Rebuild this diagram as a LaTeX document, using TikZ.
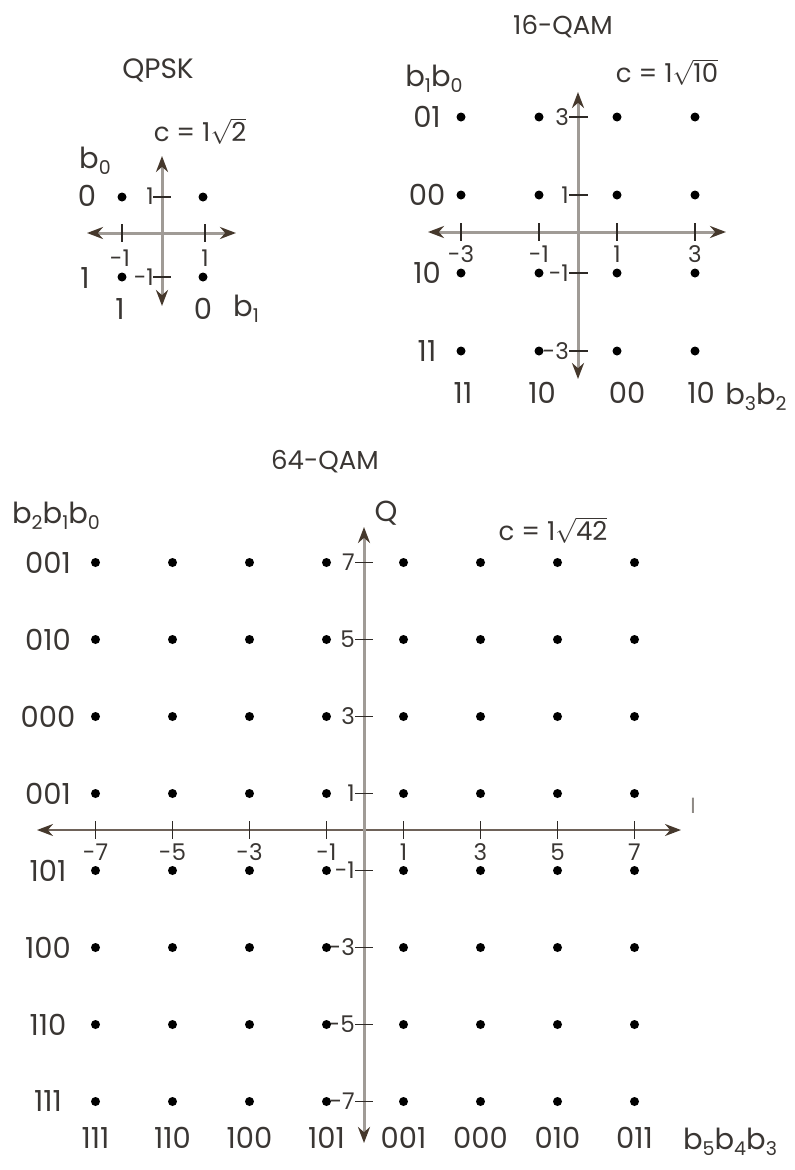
\documentclass[tikz,border=0pt]{standalone}
\usepackage{fontspec}
\usepackage{graphicx}
\setmainfont{Poppins}
\usetikzlibrary{arrows.meta}
\definecolor{txt}{HTML}{3A3633}
\definecolor{axg}{HTML}{A09B96}
\definecolor{axd}{HTML}{6E6259}
\definecolor{arr}{HTML}{45382C}
\definecolor{tk}{HTML}{2E2A26}
\definecolor{ilab}{HTML}{8E8985}
\newcommand\sbs[1]{\raisebox{-0.35ex}{\fontsize{19}{19}\selectfont #1}}
\newcommand\rootc[1]{$\sqrt{\hbox{#1}}$}
\tikzset{
  dot/.style={circle, fill=black, inner sep=0pt, minimum size=9pt},
  axis/.style={draw=axg, line width=3pt,
    arrows={Stealth[length=16pt,width=12pt,color=arr]-Stealth[length=16pt,width=12pt,color=arr]}},
  axisd/.style={axis, draw=axd, line width=2.2pt},
  tick/.style={draw=tk, line width=1.3pt},
  lab/.style={text=txt, inner sep=0pt, font=\fontsize{29}{29}\selectfont},
  tlab/.style={text=txt, inner sep=0pt, font=\fontsize{23}{23}\selectfont},
  ttl/.style={text=txt, inner sep=0pt, font=\fontsize{26}{26}\selectfont},
}
\begin{document}
\begin{tikzpicture}[x=1pt,y=-1pt]
\useasboundingbox (0,0) rectangle (795,1170);
% ================= QPSK =================
\node[ttl, font=\fontsize{28}{28}\selectfont] (qpskT) at (158,70) {QPSK};
\node[ttl] (qpskC) at (200,131) {c = 1\rootc{2}};
\coordinate (qL) at (87,233); \coordinate (qR) at (236,233);
\coordinate (qT) at (162,156); \coordinate (qB) at (162,306);
\draw[axis] (qL) -- (qR);
\draw[axis] (qT) -- (qB);
\draw[tick] (122,224) -- (122,242);
\draw[tick] (205,224) -- (205,242);
\draw[tick] (153,197) -- (171,197);
\draw[tick] (153,277) -- (171,277);
\node[tlab, anchor=east] (qv1) at (154,196) {1};
\node[tlab, anchor=east] (qvm1) at (154,277) {-1};
\node[tlab] (qhm1) at (120,258) {-1};
\node[tlab] (qh1) at (205,258) {1};
\node[dot] (q00) at (122,197) {};
\node[dot] (q10) at (203,197) {};
\node[dot] (q01) at (122,277) {};
\node[dot] (q11) at (203,277) {};
\node[lab] (qr0) at (87,196) {0};
\node[lab] (qr1) at (85,278) {1};
\node[lab] (qc1) at (120,309) {1};
\node[lab] (qc0) at (203,309) {0};
\node[lab] (qb1) at (246,309) {b\sbs{1}};
\node[lab] (qb0) at (95,161) {b\sbs{0}};
% ================= 16-QAM =================
\node[ttl] (q16T) at (563,27) {16-QAM};
\node[ttl] (q16C) at (667,72) {c = 1\rootc{10}};
\coordinate (sL) at (428,232); \coordinate (sR) at (726,232);
\coordinate (sT) at (578,92); \coordinate (sB) at (578,379);
\draw[axis] (sL) -- (sR);
\draw[axis] (sT) -- (sB);
\foreach \v/\x in {-3/461,-1/539,1/617,3/695}{
  \draw[tick] (\x,223) -- (\x,241);
  \node[tlab] (sh\v) at (\x,254) {\v};
}
\foreach \v/\y in {3/117,1/195,-1/273,-3/351}{
  \draw[tick] (569,\y) -- (588,\y);
  \node[tlab, anchor=east] (sv\v) at (569,\y) {\v};
}
\foreach \x in {461,539,617,695}{
  \foreach \y in {117,195,273,351}{
    \node[dot] (s\x-\y) at (\x,\y) {};
  }
}
\foreach \t/\y in {01/117,00/195,10/273,11/351}{
  \node[lab] (sr\y) at (427,\y) {\t};
}
\foreach \t/\x in {11/463,10/542,00/627,10/701}{
  \node[lab] (sc\x) at (\x,393) {\t};
}
\node[lab] (sb32) at (756,397) {b\sbs{3}b\sbs{2}};
\node[lab] (sb10) at (434,79) {b\sbs{1}b\sbs{0}};
% ================= 64-QAM =================
\node[ttl] (q64T) at (325,462) {64-QAM};
\node[ttl] (q64C) at (553,530) {c = 1\rootc{42}};
\node[lab] (Qlab) at (386,513) {Q};
\node[text=ilab, inner sep=0pt, font=\fontsize{22}{22}\selectfont] (Ilab) at (693,806) {I};
\coordinate (eL) at (37,830); \coordinate (eR) at (681,830);
\coordinate (eT) at (364,527); \coordinate (eB) at (364,1143);
\draw[axisd] (eL) -- (eR);
\draw[axis] (eT) -- (eB);
\foreach \v in {-7,-5,-3,-1,1,3,5,7}{
  \pgfmathsetmacro\xx{365+38.5*\v}
  \pgfmathsetmacro\yy{832-38.5*\v}
  \draw[tick] (\xx,821) -- (\xx,839);
  \node[tlab] (eh\v) at (\xx,852) {\v};
  \draw[tick] (355,\yy) -- (373,\yy);
  \node[tlab, anchor=east] (ev\v) at (355,\yy) {\v};
  \foreach \w in {-7,-5,-3,-1,1,3,5,7}{
    \pgfmathsetmacro\yw{832-38.5*\w}
    \node[dot] (e\v_\w) at (\xx,\yw) {};
  }
}
\foreach \t/\v in {001/7,010/5,000/3,001/1,101/-1,100/-3,110/-5,111/-7}{
  \pgfmathsetmacro\yy{832-38.5*\v}
  \node[lab] (er\v) at (48,\yy) {\t};
}
\foreach \t/\v in {111/-7,110/-5,100/-3,101/-1,001/1,000/3,010/5,011/7}{
  \pgfmathsetmacro\xx{365+38.5*\v}
  \node[lab] (ec\v) at (\xx,1138) {\t};
}
\node[lab] (eb543) at (730,1142) {b\sbs{5}b\sbs{4}b\sbs{3}};
\node[lab] (eb210) at (56,516) {b\sbs{2}b\sbs{1}b\sbs{0}};
\end{tikzpicture}
\end{document}
